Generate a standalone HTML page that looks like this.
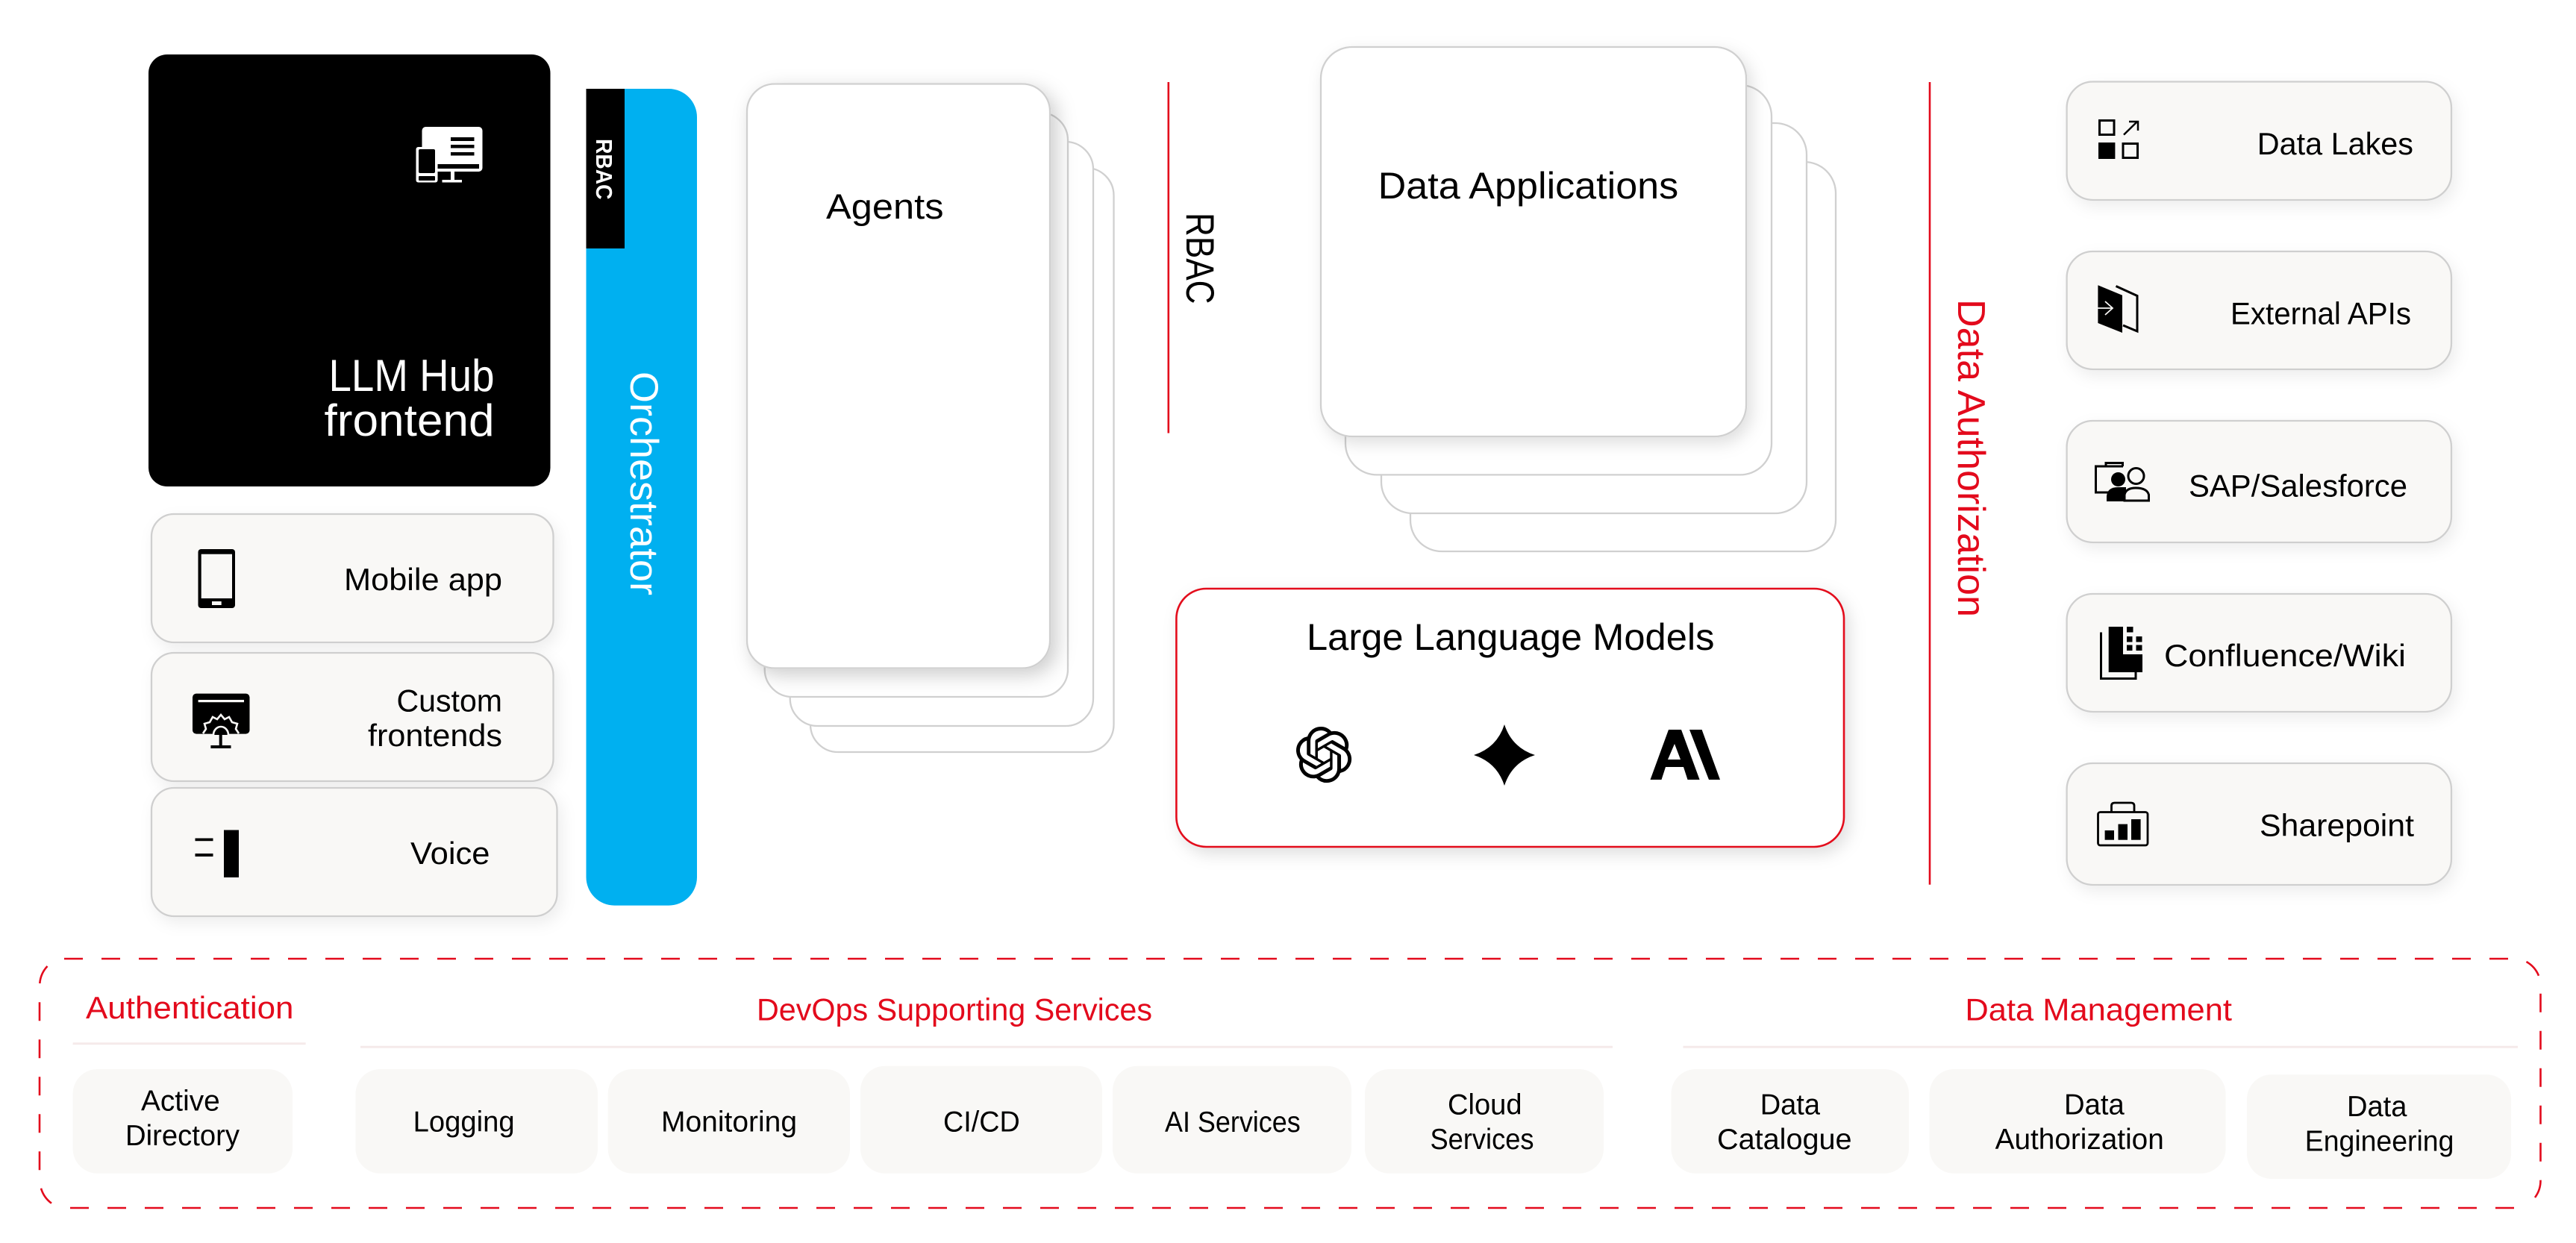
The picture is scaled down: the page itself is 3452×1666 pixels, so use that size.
<!DOCTYPE html>
<html lang="en"><head><meta charset="utf-8"><title>LLM Hub architecture</title>
<style>
html,body{margin:0;padding:0;background:#fff}
svg{display:block}
text{font-family:"Liberation Sans",sans-serif;fill:#000}
.c{fill:#f9f8f6;stroke:#cfcfcf;stroke-width:2.3}
.s{fill:#fff;stroke:#d0d0d0;stroke-width:2.3}
.p{fill:#f9f8f6}
.r{fill:#e30a1c}
.w{fill:#fff}
.hr{stroke:#f5eaea;stroke-width:3}
.d{fill:none;stroke:#e30a1c;stroke-width:2.6}
</style></head><body>
<svg xmlns="http://www.w3.org/2000/svg" width="3452" height="1666" viewBox="0 0 3452 1666">
<defs>
<filter id="sh" x="-20%" y="-20%" width="140%" height="140%"><feDropShadow dx="8" dy="8" stdDeviation="13" flood-color="#000" flood-opacity=".2"/></filter>
<filter id="sl" x="-20%" y="-20%" width="140%" height="140%"><feDropShadow dx="5" dy="8" stdDeviation="10" flood-color="#000" flood-opacity=".07"/></filter>
<filter id="sm" x="-20%" y="-20%" width="140%" height="140%"><feDropShadow dx="6" dy="8" stdDeviation="11" flood-color="#000" flood-opacity=".13"/></filter>
</defs>
<rect width="3452" height="1666" fill="#fff"/>

<!-- LLM Hub -->
<rect x="199" y="73" width="538.500" height="579" rx="25" fill="#000"/>
<rect x="565.500" y="170" width="81" height="60" rx="5" class="w"/>
<rect x="604" y="184" width="31.500" height="5" fill="#000"/><rect x="604" y="194" width="31.500" height="4.500" fill="#000"/><rect x="604" y="204" width="31.500" height="4.500" fill="#000"/>
<rect x="586" y="220" width="56" height="6" fill="#000"/>
<rect x="604" y="230" width="5" height="12" class="w"/><rect x="592.500" y="241" width="26.500" height="3.500" class="w"/>
<rect x="557.500" y="197" width="29" height="47.500" rx="3" class="w"/>
<rect x="561" y="200" width="22" height="32" rx="2" fill="#000"/><rect x="561" y="236" width="22" height="6" rx="1" fill="#000"/>
<text class="w" x="440.500" y="524" font-size="60" textLength="222" lengthAdjust="spacingAndGlyphs">LLM Hub</text>
<text class="w" x="434.500" y="584" font-size="60" textLength="228" lengthAdjust="spacingAndGlyphs">frontend</text>

<!-- Left cards -->
<rect x="203" y="689" width="538.500" height="172" rx="30" class="c" filter="url(#sl)"/>
<rect x="203" y="875" width="538.500" height="172" rx="30" class="c" filter="url(#sl)"/>
<rect x="203" y="1056" width="543.500" height="172" rx="30" class="c" filter="url(#sl)"/>
<rect x="265.500" y="736" width="49.500" height="79" rx="4" fill="#000"/>
<rect x="269.700" y="742.700" width="41.300" height="59.300" fill="#f9f8f6"/><rect x="284" y="806" width="12.700" height="5" fill="#f9f8f6"/>
<text x="461" y="791" font-size="42" textLength="212" lengthAdjust="spacingAndGlyphs">Mobile app</text>
<rect x="258" y="929.600" width="76.500" height="54" rx="5" fill="#000"/>
<rect x="265.600" y="938" width="61.400" height="3.200" fill="#f9f8f6"/>
<path d="M272,983L276,977L274,970L281,968L285,961L291,964L296,958L301,964L307,961L311,968L318,970L316,977L320,983" fill="#000" stroke="#f9f8f6" stroke-width="2.600"/>
<path d="M286,985A10,11 0 0 1 306,985" fill="#000" stroke="#f9f8f6" stroke-width="2.600"/>
<rect x="293.700" y="979" width="4" height="22" fill="#000"/><rect x="282.400" y="999" width="27.100" height="4" fill="#000"/>
<text x="531.500" y="953.500" font-size="42" textLength="141.500" lengthAdjust="spacingAndGlyphs">Custom</text>
<text x="493" y="1000" font-size="42" textLength="180" lengthAdjust="spacingAndGlyphs">frontends</text>
<rect x="300" y="1112.500" width="20" height="63.500" fill="#000"/>
<rect x="261.500" y="1123.500" width="24" height="3.700" fill="#000"/><rect x="261.500" y="1144" width="24" height="4" fill="#000"/>
<text x="550" y="1158" font-size="42" textLength="106.500" lengthAdjust="spacingAndGlyphs">Voice</text>

<!-- Orchestrator -->
<path d="M785.500,119H896A38,38 0 0 1 934,157V1175.600A38,38 0 0 1 896,1213.600H823.500A38,38 0 0 1 785.500,1175.600Z" fill="#00b0f0"/>
<rect x="785.500" y="119" width="51.500" height="214" fill="#000"/>
<text class="w" transform="translate(799,186) rotate(90)" font-size="31" font-weight="bold" textLength="81.500" lengthAdjust="spacingAndGlyphs">RBAC</text>
<text class="w" transform="translate(845,498) rotate(90)" font-size="53" textLength="300" lengthAdjust="spacingAndGlyphs">Orchestrator</text>

<!-- Agents -->
<rect x="1086" y="225" width="406.500" height="783" rx="37" class="s"/>
<rect x="1058.700" y="190" width="406.300" height="783" rx="37" class="s"/>
<rect x="1024.700" y="151" width="406.300" height="783" rx="37" class="s"/>
<rect x="1001" y="112.500" width="406" height="783" rx="37" class="s" filter="url(#sh)"/>
<text x="1107" y="293" font-size="47" textLength="157.500" lengthAdjust="spacingAndGlyphs">Agents</text>

<!-- RBAC -->
<rect x="1564.500" y="110" width="2.600" height="470.500" class="r"/>
<text transform="translate(1590,285) rotate(90)" font-size="53" textLength="122.500" lengthAdjust="spacingAndGlyphs">RBAC</text>

<!-- Data Applications -->
<rect x="1890" y="217" width="570" height="522" rx="42" class="s"/>
<rect x="1851" y="165" width="570" height="523" rx="42" class="s"/>
<rect x="1803" y="114" width="571" height="522.400" rx="42" class="s"/>
<rect x="1770" y="63" width="570" height="522" rx="42" class="s" filter="url(#sm)"/>
<text x="1846.700" y="266" font-size="50" textLength="402.500" lengthAdjust="spacingAndGlyphs">Data Applications</text>

<!-- LLM box -->
<rect x="1576.400" y="789" width="894.600" height="346" rx="40" fill="#fff" stroke="#e30a1c" stroke-width="2.600" filter="url(#sm)"/>
<text x="1751" y="871" font-size="50" textLength="546.500" lengthAdjust="spacingAndGlyphs">Large Language Models</text>
<path transform="translate(1736.500,974) scale(3.130)" d="M22.2819 9.8211a5.9847 5.9847 0 0 0-.5157-4.9108 6.0462 6.0462 0 0 0-6.5098-2.9A6.0651 6.0651 0 0 0 4.9807 4.1818a5.9847 5.9847 0 0 0-3.9977 2.9 6.0462 6.0462 0 0 0 .7427 7.0966 5.98 5.98 0 0 0 .511 4.9107 6.051 6.051 0 0 0 6.5146 2.9001A5.9847 5.9847 0 0 0 13.2599 24a6.0557 6.0557 0 0 0 5.7718-4.2058 5.9894 5.9894 0 0 0 3.9977-2.9001 6.0557 6.0557 0 0 0-.7475-7.0729zm-9.022 12.6081a4.4755 4.4755 0 0 1-2.8764-1.0408l.1419-.0804 4.7783-2.7582a.7948.7948 0 0 0 .3927-.6813v-6.7369l2.02 1.1686a.071.071 0 0 1 .038.052v5.5826a4.504 4.504 0 0 1-4.4945 4.4944zm-9.6607-4.1254a4.4708 4.4708 0 0 1-.5346-3.0137l.142.0852 4.783 2.7582a.7712.7712 0 0 0 .7806 0l5.8428-3.3685v2.3324a.0804.0804 0 0 1-.0332.0615L9.74 19.9502a4.4992 4.4992 0 0 1-6.1408-1.6464zM2.3408 7.8956a4.485 4.485 0 0 1 2.3655-1.9728V11.6a.7664.7664 0 0 0 .3879.6765l5.8144 3.3543-2.0201 1.1685a.0757.0757 0 0 1-.071 0l-4.8303-2.7865A4.504 4.504 0 0 1 2.3408 7.872zm16.5963 3.8558L13.1038 8.364 15.1192 7.2a.0757.0757 0 0 1 .071 0l4.8303 2.7913a4.4944 4.4944 0 0 1-.6765 8.1042v-5.6772a.79.79 0 0 0-.407-.667zm2.0107-3.0231l-.142-.0852-4.7735-2.7818a.7759.7759 0 0 0-.7854 0L9.409 9.2297V6.8974a.0662.0662 0 0 1 .0284-.0615l4.8303-2.7866a4.4992 4.4992 0 0 1 6.6802 4.66zM8.3065 12.863l-2.02-1.1638a.0804.0804 0 0 1-.038-.0567V6.0742a4.4992 4.4992 0 0 1 7.3757-3.4537l-.142.0805L8.704 5.459a.7948.7948 0 0 0-.3927.6813zm1.0976-2.3654l2.602-1.4998 2.6069 1.4998v2.9994l-2.5974 1.4997-2.6067-1.4997Z" fill="#000"/>
<path d="M2016,971Q2026,1002 2057,1012Q2026,1022 2016,1053Q2006,1022 1975,1012Q2006,1002 2016,971Z" fill="#000"/>
<path d="M2236,978H2253L2277.600,1045H2261.500L2256,1028H2232L2226.500,1045H2211.500ZM2244,997L2235,1018H2252Z" fill="#000" fill-rule="evenodd"/>
<path d="M2264,978H2280.600L2305,1045H2290Z" fill="#000"/>

<!-- Data Authorization -->
<rect x="2584.700" y="110" width="2.600" height="1075.700" class="r"/>
<text class="r" transform="translate(2624,401) rotate(90)" font-size="52" textLength="426" lengthAdjust="spacingAndGlyphs">Data Authorization</text>

<!-- Right cards -->
<rect x="2769.600" y="109.500" width="515.400" height="158.500" rx="35" class="c" filter="url(#sl)"/>
<rect x="2769.600" y="337" width="515.400" height="158" rx="35" class="c" filter="url(#sl)"/>
<rect x="2769.600" y="564" width="515.400" height="163" rx="35" class="c" filter="url(#sl)"/>
<rect x="2769.600" y="796" width="515.400" height="158" rx="35" class="c" filter="url(#sl)"/>
<rect x="2769.600" y="1023" width="515.400" height="163" rx="35" class="c" filter="url(#sl)"/>

<rect x="2813.500" y="161.500" width="19.500" height="19" fill="none" stroke="#000" stroke-width="3"/>
<rect x="2812" y="191" width="22.400" height="22" fill="#000"/>
<rect x="2845" y="192.500" width="19.500" height="19" fill="none" stroke="#000" stroke-width="3"/>
<path d="M2846,180.600L2864,163M2853,163H2865V175" fill="none" stroke="#000" stroke-width="2.500"/>
<text x="3024.700" y="207" font-size="42" textLength="209.300" lengthAdjust="spacingAndGlyphs">Data Lakes</text>

<path d="M2811.400,382.300L2844,395.700V446L2811.400,433Z" fill="#000"/>
<path d="M2835.500,383.500L2864,396.500V444L2845,436" fill="none" stroke="#000" stroke-width="3"/>
<path d="M2811,413H2831M2821,404L2831,413L2821,422" fill="none" stroke="#f9f8f6" stroke-width="1.800"/>
<text x="2989" y="434.400" font-size="42" textLength="242" lengthAdjust="spacingAndGlyphs">External APIs</text>

<path d="M2838,660H2808.500V625H2845M2822,625V620.500H2844.500V625" fill="none" stroke="#000" stroke-width="3"/>
<circle cx="2838.500" cy="642.500" r="9.500" fill="#000"/>
<path d="M2823,672V665Q2824,653 2838,653H2849V672Z" fill="#000"/>
<circle cx="2862.500" cy="638" r="10.500" fill="#f9f8f6" stroke="#000" stroke-width="3"/>
<path d="M2847,671V663Q2849,654 2862,654Q2877,654 2879.500,663V671Z" fill="#f9f8f6" stroke="#000" stroke-width="3"/>
<text x="2933" y="665.500" font-size="42" textLength="293" lengthAdjust="spacingAndGlyphs">SAP/Salesforce</text>

<path d="M2815.500,847.500V909.500H2862V901" fill="none" stroke="#000" stroke-width="3"/>
<path d="M2825.700,840H2845V877H2871V901H2825.700Z" fill="#000"/>
<rect x="2850" y="840" width="8.500" height="7.500" fill="#000"/>
<rect x="2850" y="853" width="7.500" height="7.500" fill="#000"/><rect x="2862.500" y="853" width="8" height="7.500" fill="#000"/>
<rect x="2850" y="864.500" width="7.500" height="7.500" fill="#000"/><rect x="2862.500" y="864.500" width="8" height="7.500" fill="#000"/>
<text x="2900" y="893" font-size="42" textLength="324" lengthAdjust="spacingAndGlyphs">Confluence/Wiki</text>

<rect x="2811.500" y="1088.500" width="66.500" height="44.500" rx="3" fill="none" stroke="#000" stroke-width="2.800"/>
<path d="M2829.500,1088V1080Q2829.500,1076 2834,1076H2855.500Q2860,1076 2860,1080V1088" fill="none" stroke="#000" stroke-width="2.800"/>
<rect x="2820.600" y="1113" width="12.400" height="12.700" fill="#000"/><rect x="2838.500" y="1104.600" width="12.500" height="21.100" fill="#000"/><rect x="2856" y="1098" width="12.600" height="27.700" fill="#000"/>
<text x="3028" y="1120.700" font-size="42" textLength="207" lengthAdjust="spacingAndGlyphs">Sharepoint</text>

<!-- Dashed box -->
<line x1="86" y1="1285" x2="3361" y2="1285" class="d" stroke-dasharray="25 25"/>
<line x1="94" y1="1619" x2="3375.500" y2="1619" class="d" stroke-dasharray="25 25"/>
<line x1="53" y1="1343.300" x2="53" y2="1568.300" class="d" stroke-dasharray="25 25"/>
<line x1="3404.500" y1="1331.700" x2="3404.500" y2="1556.700" class="d" stroke-dasharray="25 25"/>
<path class="d" d="M53.300,1318A38,38 0 0 1 63.500,1295"/>
<path class="d" d="M3385.500,1289A38,38 0 0 1 3402,1307.700"/>
<path class="d" d="M3404.500,1581.700A38,38 0 0 1 3397,1605"/>
<path class="d" d="M69,1612.700A38,38 0 0 1 55,1592.700"/>

<!-- Bottom headings -->
<text class="r" x="115" y="1365" font-size="42" textLength="278.500" lengthAdjust="spacingAndGlyphs">Authentication</text>
<text class="r" x="1014" y="1367.700" font-size="42" textLength="530" lengthAdjust="spacingAndGlyphs">DevOps Supporting Services</text>
<text class="r" x="2633.400" y="1367.700" font-size="42" textLength="357.600" lengthAdjust="spacingAndGlyphs">Data Management</text>
<line class="hr" x1="97.600" y1="1398.700" x2="409.600" y2="1398.700"/>
<line class="hr" x1="483" y1="1403.300" x2="2161" y2="1403.300"/>
<line class="hr" x1="2255.500" y1="1403.300" x2="3374" y2="1403.300"/>

<!-- Bottom pills -->
<rect class="p" x="97.600" y="1433" width="294.400" height="139.700" rx="33"/>
<rect class="p" x="476.500" y="1433" width="324.500" height="139.700" rx="33"/>
<rect class="p" x="814.700" y="1433" width="324.300" height="139.700" rx="33"/>
<rect class="p" x="1153" y="1428.700" width="324" height="144" rx="33"/>
<rect class="p" x="1491" y="1428.700" width="320" height="144" rx="33"/>
<rect class="p" x="1829" y="1433" width="320" height="139.700" rx="33"/>
<rect class="p" x="2239.500" y="1433" width="318.500" height="139.700" rx="33"/>
<rect class="p" x="2585.600" y="1433" width="396.900" height="139.700" rx="33"/>
<rect class="p" x="3011" y="1440.300" width="354" height="139.700" rx="33"/>

<text x="189" y="1488.700" font-size="39" textLength="105.700" lengthAdjust="spacingAndGlyphs">Active</text>
<text x="168" y="1535" font-size="39" textLength="153" lengthAdjust="spacingAndGlyphs">Directory</text>
<text x="553.600" y="1516.700" font-size="39" textLength="136" lengthAdjust="spacingAndGlyphs">Logging</text>
<text x="886" y="1516.700" font-size="39" textLength="182" lengthAdjust="spacingAndGlyphs">Monitoring</text>
<text x="1264" y="1516.700" font-size="39" textLength="102.700" lengthAdjust="spacingAndGlyphs">CI/CD</text>
<text x="1561" y="1517" font-size="39" textLength="181.700" lengthAdjust="spacingAndGlyphs">AI Services</text>
<text x="1940" y="1493.300" font-size="39" textLength="99.500" lengthAdjust="spacingAndGlyphs">Cloud</text>
<text x="1916.500" y="1540" font-size="39" textLength="139" lengthAdjust="spacingAndGlyphs">Services</text>
<text x="2358.700" y="1493.300" font-size="39" textLength="80.300" lengthAdjust="spacingAndGlyphs">Data</text>
<text x="2301" y="1540" font-size="39" textLength="180.600" lengthAdjust="spacingAndGlyphs">Catalogue</text>
<text x="2766" y="1493.300" font-size="39" textLength="80.700" lengthAdjust="spacingAndGlyphs">Data</text>
<text x="2673.600" y="1540" font-size="39" textLength="226.200" lengthAdjust="spacingAndGlyphs">Authorization</text>
<text x="3145" y="1496" font-size="39" textLength="80.400" lengthAdjust="spacingAndGlyphs">Data</text>
<text x="3088.800" y="1542.700" font-size="39" textLength="199.600" lengthAdjust="spacingAndGlyphs">Engineering</text>
</svg>
</body></html>
